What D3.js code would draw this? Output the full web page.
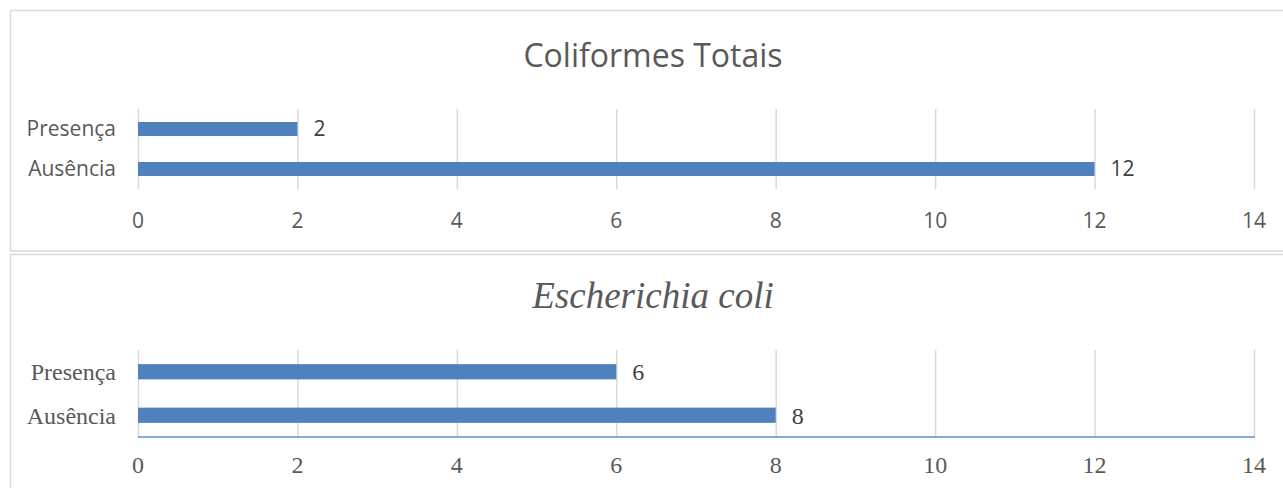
<!DOCTYPE html>
<html>
<head>
<meta charset="utf-8">
<script src="https://cdn.jsdelivr.net/npm/d3@7"></script>
<style>
  body { margin: 0; background: #fff; }
  svg { display: block; }
</style>
</head>
<body>
<script>
let categories = ['Presença', 'Ausência']
let coliformesValues = [2, 12]
let ecoliValues = [6, 8]
let tickValues = [0, 2, 4, 6, 8, 10, 12, 14]
let titles = ['Coliformes Totais', 'Escherichia coli']

let width = 1283
let height = 488
let barColor = '#4f81bd'
let textColor = '#595959'
let gridColor = '#d9d9d9'

let svg = d3.select('body').append('svg')
  .attr('width', width)
  .attr('height', height)

function drawPanel (opts) {
  let g = svg.append('g')

  // frame of the chart
  g.append('rect')
    .attr('x', 10.5)
    .attr('y', opts.boxTop + 0.5)
    .attr('width', width + 10)
    .attr('height', opts.boxHeight)
    .style('fill', 'none')
    .style('stroke', gridColor)
    .style('stroke-width', '1.5px')

  g.append('text')
    .attr('x', 653)
    .attr('y', opts.titleY)
    .attr('text-anchor', 'middle')
    .style('font-family', opts.font)
    .style('font-size', opts.titleSize + 'px')
    .style('font-style', opts.titleItalic ? 'italic' : 'normal')
    .style('fill', textColor)
    .text(opts.title)

  let xScale = d3.scaleLinear().domain([0, 14]).range([138, 1254])
  let yScale = d3.scaleBand().domain(categories)
    .range([opts.plotTop, opts.plotBottom])
    .paddingInner(0.65).paddingOuter(0.325)

  // gridlines
  g.selectAll('.grid')
    .data(tickValues)
    .enter().append('line')
    .attr('x1', d => xScale(d) + 0.5)
    .attr('x2', d => xScale(d) + 0.5)
    .attr('y1', opts.plotTop)
    .attr('y2', opts.plotBottom)
    .style('stroke', gridColor)
    .style('stroke-width', '1.5px')

  // tick labels
  g.selectAll('.tick')
    .data(tickValues)
    .enter().append('text')
    .attr('x', d => xScale(d))
    .attr('y', opts.tickY)
    .attr('text-anchor', 'middle')
    .style('font-family', opts.font)
    .style('font-size', opts.labelSize + 'px')
    .style('fill', textColor)
    .text(d => d)

  // category labels
  g.selectAll('.cat')
    .data(categories)
    .enter().append('text')
    .attr('x', 116)
    .attr('y', d => yScale(d) + yScale.bandwidth() / 2)
    .attr('dy', '0.35em')
    .attr('text-anchor', 'end')
    .style('font-family', opts.font)
    .style('font-size', opts.labelSize + 'px')
    .style('fill', textColor)
    .text(d => d)

  g.selectAll('.bar')
    .data(opts.values)
    .enter().append('rect')
    .attr('x', xScale(0))
    .attr('y', (d, i) => yScale(categories[i]))
    .attr('width', d => xScale(d) - xScale(0))
    .attr('height', yScale.bandwidth())
    .style('fill', barColor)

  // value labels
  g.selectAll('.val')
    .data(opts.values)
    .enter().append('text')
    .attr('x', d => xScale(d) + 16)
    .attr('y', (d, i) => yScale(categories[i]) + yScale.bandwidth() / 2)
    .attr('dy', '0.35em')
    .style('font-family', opts.font)
    .style('font-size', opts.labelSize + 'px')
    .style('fill', '#404040')
    .text(d => d)

  if (opts.axisLine) {
    g.append('line')
      .attr('x1', xScale(0))
      .attr('x2', xScale(14) + 1)
      .attr('y1', opts.plotBottom)
      .attr('y2', opts.plotBottom)
      .style('stroke', '#5b8fcf')
      .style('stroke-width', '1.5px')
  }
}

drawPanel({
  title: titles[0], values: coliformesValues,
  boxTop: 10, boxHeight: 240.5,
  titleY: 67, titleSize: 32, titleItalic: false,
  font: '"Open Sans", sans-serif', labelSize: 21,
  plotTop: 109, plotBottom: 189, tickY: 228, axisLine: false
})

drawPanel({
  title: titles[1], values: ecoliValues,
  boxTop: 254, boxHeight: 260,
  titleY: 308, titleSize: 37, titleItalic: true,
  font: '"Liberation Serif", "Times New Roman", serif', labelSize: 24,
  plotTop: 350, plotBottom: 437, tickY: 473, axisLine: true
})
</script>
</body>
</html>
